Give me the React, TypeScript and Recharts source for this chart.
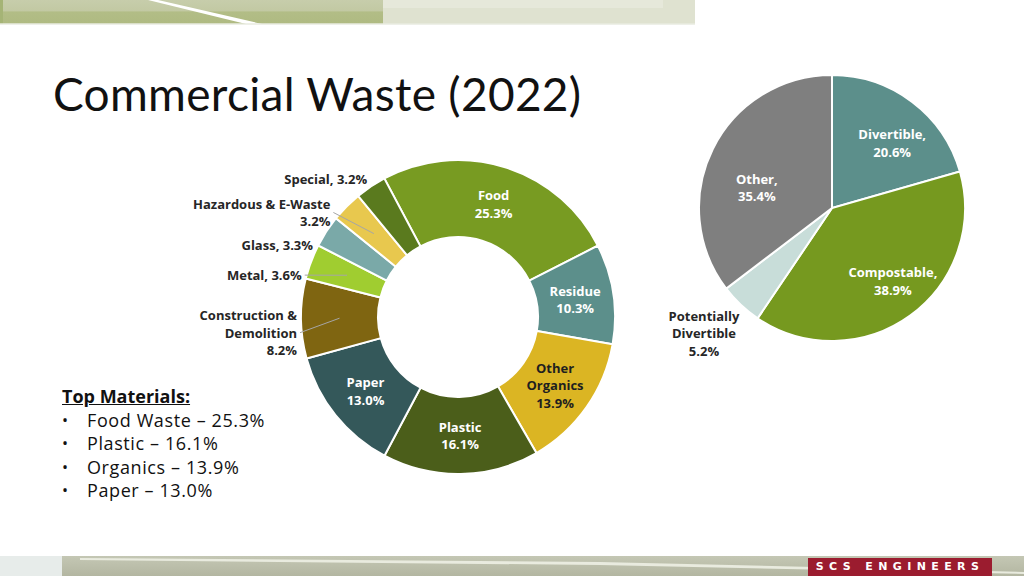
import { PieChart, Pie, Cell } from "recharts";

const FONT = "'Open Sans', Lato, sans-serif";
const RAD = Math.PI / 180;

// donut: material composition
const materials = [
  "Food",
  "Residue",
  "Other Organics",
  "Plastic",
  "Paper",
  "Construction & Demolition",
  "Metal",
  "Glass",
  "Hazardous & E-Waste",
  "Special",
];
const materialShares = [25.3, 10.3, 13.9, 16.1, 13.0, 8.2, 3.6, 3.3, 3.2, 3.2];
const materialColors = [
  "#789b22",
  "#5c8f8b",
  "#dbb523",
  "#4b5e1a",
  "#34585a",
  "#7f6511",
  "#a0cd30",
  "#7aa9a8",
  "#e8c84e",
  "#5a7a1e",
];
const materialLabels = [
  "Food\n{v}",
  "Residue\n{v}",
  "Other\nOrganics\n{v}",
  "Plastic\n{v}",
  "Paper\n{v}",
  "Construction &\nDemolition\n{v}",
  "Metal, {v}",
  "Glass, {v}",
  "Hazardous & E-Waste\n{v}",
  "Special, {v}",
];

// pie: diversion potential
const diversion = ["Divertible", "Compostable", "Potentially Divertible", "Other"];
const diversionShares = [20.6, 38.9, 5.2, 35.4];
const diversionColors = ["#5c8f8b", "#76991f", "#c8ddd9", "#7f7f7f"];
const diversionLabels = ["Divertible,\n{v}", "Compostable,\n{v}", "Potentially\nDivertible\n{v}", "Other,\n{v}"];

// bullet list
const topNames = ["Food Waste", "Plastic", "Organics", "Paper"];
const topShares = [25.3, 16.1, 13.9, 13.0];

const materialNudge: Record<string, [number, number]> = {
  Special: [2, 1],
  "Hazardous & E-Waste": [-9, 13],
  Glass: [-5, 19],
  Metal: [0, 17],
  "Construction & Demolition": [6, 14],
};
const withLeader = new Set(["Hazardous & E-Waste", "Metal", "Construction & Demolition"]);

const diversionNudge: Record<string, [number, number]> = {
  Divertible: [9, 3],
  Compostable: [11, 4],
  "Potentially Divertible": [-23, 14],
  Other: [1, 17],
};

const pct = (v: number) => v.toFixed(1) + "%";

function polar(cx: number, cy: number, r: number, a: number) {
  return [cx + r * Math.cos(-a * RAD), cy + r * Math.sin(-a * RAD)];
}

function Lines({ x, y, lines, anchor, fill }: any) {
  const lh = 17.5;
  const y0 = y - ((lines.length - 1) * lh) / 2;
  return (
    <g>
      {lines.map((l: string, i: number) => (
        <text
          key={i}
          x={x}
          y={y0 + i * lh}
          textAnchor={anchor}
          dominantBaseline="central"
          fill={fill}
          fontFamily={FONT}
          fontWeight={700}
          fontSize={13}
        >
          {l}
        </text>
      ))}
    </g>
  );
}

function materialLabel(props: any) {
  const { cx, cy, midAngle, innerRadius, outerRadius, index } = props;
  const name = materials[index];
  const share = materialShares[index];
  const lines = materialLabels[index].replace("{v}", pct(share)).split("\n");
  if (share >= 9) {
    const [x, y] = polar(cx, cy, (innerRadius + outerRadius) / 2, midAngle);
    return <Lines x={x} y={y} lines={lines} anchor="middle" fill={index === 2 ? "#1f1f1f" : "#fff"} />;
  }
  const [ox, oy] = polar(cx, cy, outerRadius + 10, midAngle);
  const [dx, dy] = materialNudge[name] || [0, 0];
  const x = ox + dx;
  const y = oy + dy;
  const [mx, my] = polar(cx, cy, (innerRadius + outerRadius) / 2, midAngle);
  return (
    <g>
      {withLeader.has(name) && <line x1={x + 3} y1={y} x2={mx} y2={my} stroke="#a6a6a6" strokeWidth={1} />}
      <Lines x={x} y={y} lines={lines} anchor="end" fill="#262626" />
    </g>
  );
}

function diversionLabel(props: any) {
  const { cx, cy, midAngle, outerRadius, index } = props;
  const name = diversion[index];
  const share = diversionShares[index];
  const lines = diversionLabels[index].replace("{v}", pct(share)).split("\n");
  const outside = share < 10;
  const [px, py] = polar(cx, cy, outside ? outerRadius + 20 : 85, midAngle);
  const [dx, dy] = diversionNudge[name] || [0, 0];
  return (
    <Lines x={px + dx} y={py + dy} lines={lines} anchor="middle" fill={outside ? "#262626" : "#fff"} />
  );
}

export default function App() {
  const materialData = materials.map((name, i) => ({ name, value: materialShares[i] }));
  const diversionData = diversion.map((name, i) => ({ name, value: diversionShares[i] }));

  return (
    <div
      style={{
        position: "absolute",
        left: 0,
        top: 0,
        width: 1024,
        height: 576,
        overflow: "hidden",
        background: "#fff",
        fontFamily: FONT,
      }}
    >
      {/* top banner */}
      <div style={{ position: "absolute", left: 383, top: 0, width: 312, height: 24, background: "#dfe2d0" }} />
      <div style={{ position: "absolute", left: 383, top: 0, width: 280, height: 8, background: "#e6e8da" }} />
      <div
        style={{
          position: "absolute",
          left: 0,
          top: 0,
          width: 383,
          height: 24,
          background: "linear-gradient(#c7cdab 0%, #c2c9a3 45%, #b2bd86 50%, #afba82 100%)",
        }}
      />
      <div style={{ position: "absolute", left: 0, top: 0, width: 3, height: 24, background: "#a5b476" }} />
      <svg style={{ position: "absolute", left: 0, top: 0 }} width={700} height={26}>
        <polygon points="148,0 158,0 262,24 246,24" fill="#fff" />
        <line x1={0} y1={24} x2={695} y2={24} stroke="#e9ebe0" strokeWidth={1.5} />
      </svg>

      {/* bottom banner */}
      <div style={{ position: "absolute", left: 0, top: 556, width: 62, height: 20, background: "#e7ecea" }} />
      <div
        style={{
          position: "absolute",
          left: 62,
          top: 556,
          width: 962,
          height: 20,
          background: "linear-gradient(#c4c7b4, #b3b6a1)",
        }}
      />
      <svg style={{ position: "absolute", left: 0, top: 556 }} width={1024} height={20}>
        <polygon points="80,2 600,6 1024,16 1024,18 600,9 80,4" fill="#e9ebdf" />
      </svg>
      <div
        style={{
          position: "absolute",
          left: 808,
          top: 558,
          width: 184,
          height: 18,
          background: "#9b1c2f",
          color: "#fff",
          fontFamily: "'DejaVu Sans', sans-serif",
          fontWeight: 700,
          fontSize: 11,
          letterSpacing: 5.4,
          lineHeight: "18px",
          textAlign: "center",
        }}
      >
        SCS ENGINEERS
      </div>

      {/* title */}
      <div
        style={{
          position: "absolute",
          left: 53,
          top: 71,
          fontFamily: "Lato, sans-serif",
          fontWeight: 400,
          fontSize: 46,
          lineHeight: "46px",
          letterSpacing: 0.3,
          color: "#111",
          whiteSpace: "nowrap",
        }}
      >
        Commercial Waste (2022)
      </div>

      {/* top materials list */}
      <div style={{ position: "absolute", left: 62, top: 385, fontSize: 18, lineHeight: "23.5px", color: "#111" }}>
        <div style={{ fontWeight: 700, textDecoration: "underline" }}>Top Materials:</div>
        {topNames.map((n, i) => (
          <div key={n} style={{ display: "flex", letterSpacing: 0.6 }}>
            <span style={{ width: 25, fontSize: 16 }}>•</span>
            <span>
              {n} – {pct(topShares[i])}
            </span>
          </div>
        ))}
      </div>

      <div style={{ position: "absolute", left: 0, top: 0 }}>
        <PieChart width={1024} height={576} margin={{ top: 0, right: 0, bottom: 0, left: 0 }}>
          <Pie
            data={materialData}
            dataKey="value"
            nameKey="name"
            cx={458}
            cy={317}
            innerRadius={80}
            outerRadius={157}
            startAngle={118}
            endAngle={-242}
            stroke="#fff"
            strokeWidth={2}
            label={materialLabel}
            labelLine={false}
            isAnimationActive={false}
          >
            {materialData.map((d, i) => (
              <Cell key={d.name} fill={materialColors[i]} />
            ))}
          </Pie>
          <Pie
            data={diversionData}
            dataKey="value"
            nameKey="name"
            cx={832}
            cy={208}
            outerRadius={133}
            startAngle={90}
            endAngle={-270}
            stroke="#fff"
            strokeWidth={2}
            label={diversionLabel}
            labelLine={false}
            isAnimationActive={false}
          >
            {diversionData.map((d, i) => (
              <Cell key={d.name} fill={diversionColors[i]} />
            ))}
          </Pie>
        </PieChart>
      </div>
    </div>
  );
}
